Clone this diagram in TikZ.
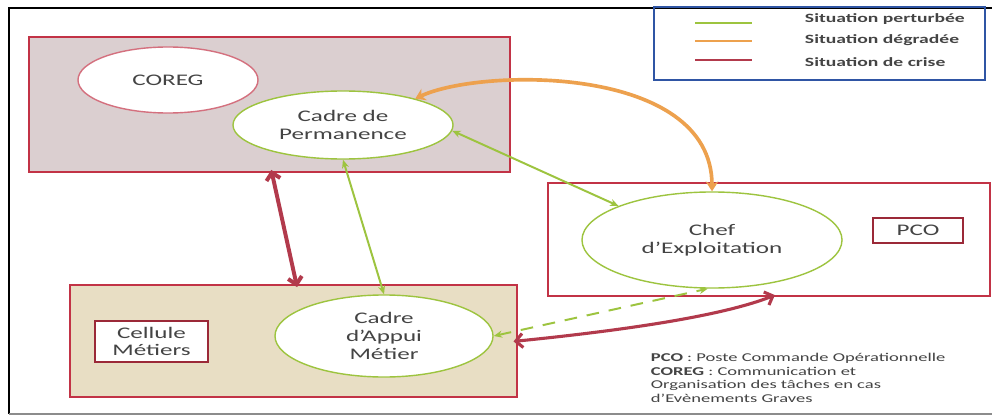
\documentclass[tikz,border=0pt]{standalone}
\usepackage{fontspec}
\setmainfont{Carlito}[FakeStretch=1.55]
\usetikzlibrary{arrows.meta,shapes.geometric}
\definecolor{sygreen}{HTML}{9DC43F}
\definecolor{syorange}{HTML}{EDA14E}
\definecolor{syred}{HTML}{C23346}
\definecolor{sycrimson}{HTML}{B23A4C}
\definecolor{syblue}{HTML}{2F55A4}
\definecolor{sypink}{HTML}{DBCFD0}
\definecolor{sysand}{HTML}{E8DEC4}
\definecolor{sytext}{HTML}{444444}

\begin{document}
\begin{tikzpicture}[x=0.025cm, y=-0.025cm, text=sytext,
  every node/.style={font=\fontsize{11.5}{12.5}\selectfont},
  zone/.style={draw=syred, line width=0.9pt, rectangle, inner sep=0pt},
  role/.style={draw=sygreen, line width=1pt, ellipse, fill=white, inner sep=0pt, align=center},
  tag/.style={draw=syred!80!black, line width=0.9pt, fill=white, inner sep=0pt, align=center},
  perturbee/.style={draw=sygreen, line width=1.4pt, {Stealth[length=6pt,width=5pt]}-{Stealth[length=6pt,width=5pt]}},
  degradee/.style={draw=syorange, line width=2.6pt, {Stealth[length=7pt,width=9pt]}-{Stealth[length=7pt,width=9pt]}},
  crise/.style={draw=sycrimson, line width=2.2pt, {Straight Barb[length=5pt,width=10pt]}-{Straight Barb[length=5pt,width=10pt]}},
  legendtext/.style={anchor=west, font=\fontsize{9}{10}\selectfont\bfseries}]
  \useasboundingbox[fill=white] (0,0) rectangle (992,420);

  % Frame
  \draw[black, line width=1.2pt] (992,8) -- (9,8) -- (9,414);
  \draw[black!45, line width=0.8pt] (9,414) -- (992,414);

  % Zones
  \node[zone, fill=sypink, minimum width=12.025cm, minimum height=3.375cm] (topzone) at (269.5,104.5) {};
  \node[zone, fill=sysand, minimum width=11.175cm, minimum height=2.8cm] (basezone) at (293.5,341) {};
  \node[zone, fill=white, minimum width=11.05cm, minimum height=2.825cm] (pcozone) at (769,239.5) {};

  % Roles
  \node[role, draw=syred!70, minimum width=4.5cm, minimum height=1.65cm] (coreg) at (168,80) {COREG};
  \node[role, minimum width=5.5cm, minimum height=1.7cm] (permanence) at (343,125) {Cadre de\\Permanence};
  \node[role, fill=none, minimum width=6.5cm, minimum height=2.4cm] (chef) at (712,240) {Chef\\d’Exploitation};
  \node[role, minimum width=5.45cm, minimum height=2.05cm] (appui) at (384,336) {Cadre\\d’Appui\\Métier};

  % Labels
  \node[tag, minimum width=2.825cm, minimum height=1.025cm] (cellule) at (151.5,341.5) {Cellule\\Métiers};
  \node[tag, minimum width=2.25cm, minimum height=0.625cm] (pcotag) at (918,230.5) {PCO};

  % Legend
  \node[draw=syblue, line width=1pt, minimum width=8.275cm, minimum height=1.825cm, inner sep=0pt] (legende) at (819.5,43.5) {};
  \coordinate (gA) at (695,23); \coordinate (gB) at (752,23);
  \coordinate (oA) at (695,41); \coordinate (oB) at (752,41);
  \coordinate (rA) at (695,60); \coordinate (rB) at (752,60);
  \draw[sygreen, line width=2pt] (gA) -- (gB);
  \draw[syorange, line width=2pt] (oA) -- (oB);
  \draw[sycrimson, line width=2pt] (rA) -- (rB);
  \node[legendtext] (lpert) at (800,19) {Situation perturbée};
  \node[legendtext] (ldegr) at (800,40) {Situation dégradée};
  \node[legendtext] (lcrise) at (800,62) {Situation de crise};

  % Arrows
  \draw[degradee] (permanence.20) .. controls (480,68) and (712,64) .. (chef.north);
  \draw[perturbee] (permanence.-3) -- (chef.160);
  \draw[perturbee] (permanence.south) -- (appui.north);
  \draw[perturbee, dashed, dash pattern=on 9pt off 7pt] (appui.east) -- (chef.-95);
  \draw[crise, line width=2.8pt, shorten <=-2pt, shorten >=-2pt] (topzone.-88) -- (basezone.87);
  \draw[crise, shorten <=-3pt, shorten >=-3pt] (basezone.east) .. controls +(100,-10) and +(-50,20) .. (pcozone.-88);

  % Notes
  \node[anchor=north west, align=left, font=\fontsize{8.5}{9.8}\selectfont] (notes) at (646,348) {\textbf{PCO} : Poste Commande Opérationnelle\\
    \textbf{COREG} : Communication et\\
    Organisation des tâches en cas\\
    d’Evènements Graves};
\end{tikzpicture}
\end{document}
